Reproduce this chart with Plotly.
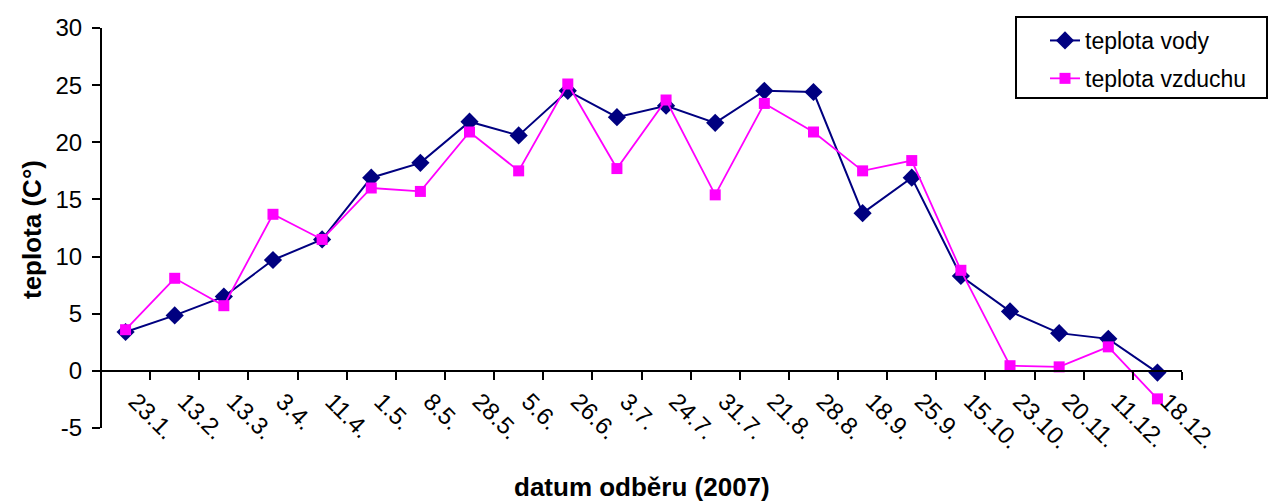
import plotly.graph_objects as go

dates = ["23.1.", "13.2.", "13.3.", "3.4.", "11.4.", "1.5.", "8.5.", "28.5.", "5.6.", "26.6.",
         "3.7.", "24.7.", "31.7.", "21.8.", "28.8.", "18.9.", "25.9.", "15.10.", "23.10.",
         "20.11.", "11.12.", "18.12."]
teplota_vody = [3.4, 4.85, 6.5, 9.7, 11.5, 16.9, 18.2, 21.8, 20.6, 24.5,
                22.2, 23.2, 21.7, 24.5, 24.4, 13.8, 16.9, 8.3, 5.2, 3.3, 2.8, -0.15]
teplota_vzduchu = [3.6, 8.1, 5.7, 13.7, 11.5, 16.0, 15.7, 20.9, 17.5, 25.1,
                   17.7, 23.7, 15.4, 23.4, 20.9, 17.5, 18.4, 8.8, 0.45, 0.35, 2.1, -2.45]
y_ticks = [-5, 0, 5, 10, 15, 20, 25, 30]
y_tick_labels = ["-5", "0", "5", "10", "15", "20", "25", "30"]

FONT = "Arial, Liberation Sans, sans-serif"
PW, PH, ML, MB = 1081, 400, 101, 73  # plot area size / margins in px


def px_x(x):
    return (x - ML) / PW


def px_y(y):
    return (428 - y) / PH


fig = go.Figure()
fig.add_trace(go.Scatter(
    x=dates, y=teplota_vody, name="teplota vody", mode="lines+markers",
    legendgroup="a",
    line=dict(color="#000080", width=2),
    marker=dict(symbol="diamond", size=14, color="#000080"),
))
fig.add_trace(go.Scatter(
    x=dates, y=teplota_vzduchu, name="teplota vzduchu", mode="lines+markers",
    legendgroup="b",
    line=dict(color="#FF00FF", width=1.8),
    marker=dict(symbol="square", size=11, color="#FF00FF"),
))

fig.update_layout(
    width=1272, height=501,
    margin=dict(l=ML, r=1272 - ML - PW, t=28, b=MB),
    paper_bgcolor="white", plot_bgcolor="white",
    font=dict(family=FONT, size=24, color="black"),
    showlegend=True,
    legend=dict(
        x=px_x(1045), y=px_y(19), xanchor="left", yanchor="top",
        borderwidth=0, bgcolor="rgba(0,0,0,0)",
        font=dict(family=FONT, size=23, color="black"),
        tracegroupgap=5,
    ),
    shapes=[
        dict(type="rect", xref="paper", yref="paper",
             x0=px_x(1016), x1=px_x(1267), y0=px_y(98), y1=px_y(17),
             line=dict(color="black", width=2), fillcolor="rgba(0,0,0,0)", layer="above"),
    ],
    xaxis=dict(
        type="category", range=[-0.5, 21.5],
        anchor="free", position=5 / 35,
        showline=True, linecolor="black", linewidth=2,
        ticks="outside", ticklen=8, tickwidth=2, tickcolor="black",
        tickson="boundaries", tickangle=45,
        ticklabelstandoff=6, ticklabelshift=10,
        tickfont=dict(family=FONT, size=24, color="black"),
        showgrid=False, zeroline=False,
    ),
    yaxis=dict(
        range=[-5, 30], tickmode="array", tickvals=y_ticks, ticktext=y_tick_labels,
        anchor="free", position=0,
        showline=True, linecolor="black", linewidth=2,
        ticks="outside", ticklen=8, tickwidth=2, tickcolor="black",
        ticklabelstandoff=5,
        tickfont=dict(family=FONT, size=24, color="black"),
        showgrid=False, zeroline=False,
    ),
    annotations=[
        dict(text="<b>datum odběru (2007)</b>", x=0.5, y=px_y(487),
             xref="paper", yref="paper",
             showarrow=False, font=dict(family=FONT, size=26, color="black"),
             yanchor="middle", xanchor="center"),
        dict(text="<b>teplota (C°)</b>", x=px_x(32), y=px_y(230),
             xref="paper", yref="paper",
             showarrow=False, textangle=-90, font=dict(family=FONT, size=26, color="black"),
             yanchor="middle", xanchor="center"),
    ],
)

fig.write_html("out.html")
